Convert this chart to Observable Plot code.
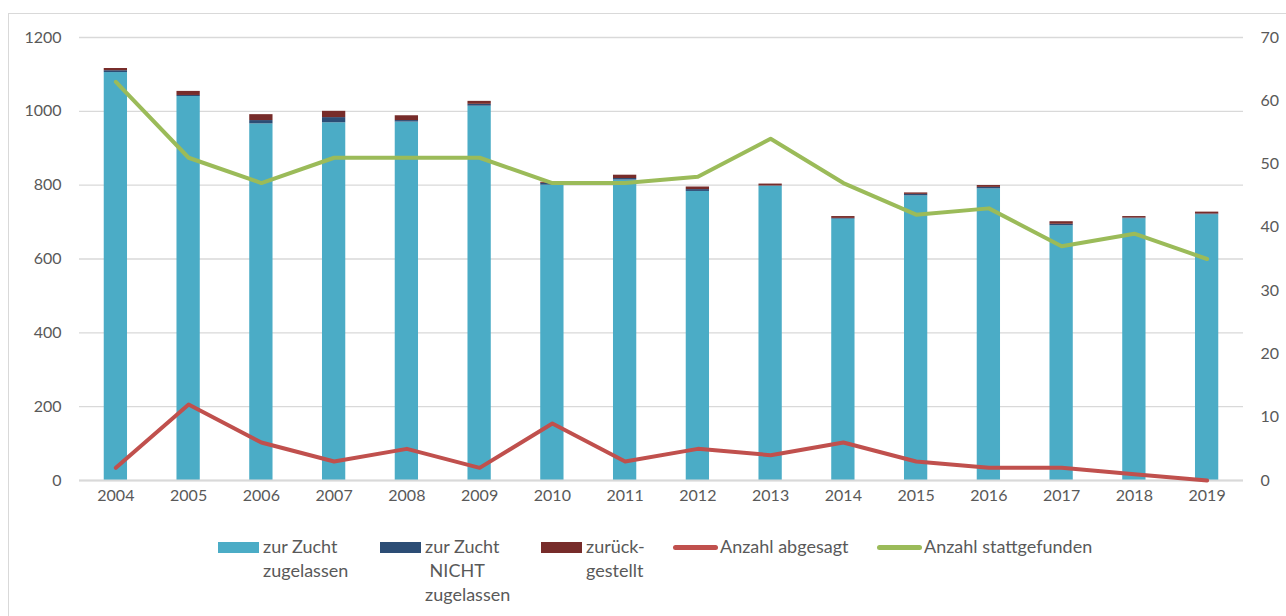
<!DOCTYPE html>
<html><head><meta charset="utf-8">
<script src="https://cdn.jsdelivr.net/npm/d3@7"></script>
<script src="https://cdn.jsdelivr.net/npm/@observablehq/plot@0.6"></script>
<style>
body{margin:0;background:#fff;font-family:Lato,sans-serif;width:1286px;height:616px;overflow:hidden;position:relative;}
#frame{position:absolute;left:8px;top:13px;width:1300px;height:700px;border:1px solid #d9d9d9;box-sizing:border-box;}
#chart{position:absolute;left:0;top:0;}
.leg{position:absolute;top:534px;font-size:18px;line-height:24px;color:#595959;display:flex;align-items:flex-start;white-space:nowrap;}
.sw{width:41px;height:11px;margin-top:8px;margin-right:4px;flex:none;}
.ln{height:5px;border-radius:2.5px;margin-top:11px;margin-right:2px;flex:none;}
</style></head><body>
<div id="frame"></div>
<div id="chart"></div>
<div id="legend"></div>
<script>
const years = ["2004","2005","2006","2007","2008","2009","2010","2011","2012","2013","2014","2015","2016","2017","2018","2019"];
const zugelassen      = [1105,1040,966,969,971,1014,800,814,783,797,708,771,790,690,709,720];
const nichtZugelassen = [5,3,9,14,4,5,5,4,5,1,2,4,4,4,2,2];
const zurueckgestellt = [6,11,16,17,13,8,3,9,7,5,5,4,5,7,4,5];
const abgesagt        = [2,12,6,3,5,2,9,3,5,4,6,3,2,2,1,0];
const stattgefunden   = [63,51,47,51,51,51,47,47,48,54,47,42,43,37,39,35];
const seriesNames  = ["zur Zucht zugelassen","zur Zucht NICHT zugelassen","zurückgestellt"];
const seriesColors = ["#4bacc6","#2c4d75","#772c2a"];
const lineNames  = ["Anzahl abgesagt","Anzahl stattgefunden"];
const lineColors = ["#c0504d","#9bbb59"];
const leftTicks  = [0,200,400,600,800,1000,1200];
const rightTicks = [0,10,20,30,40,50,60,70];
const leftMax = 1200, rightMax = 70;
const k = leftMax / rightMax;

const seriesValues = [zugelassen, nichtZugelassen, zurueckgestellt];
const barData = [];
seriesNames.forEach((s, i) => years.forEach((y, j) => barData.push({year: y, series: s, value: seriesValues[i][j]})));
const lineA = years.map((y, j) => ({year: y, value: abgesagt[j]}));
const lineS = years.map((y, j) => ({year: y, value: stattgefunden[j]}));

const chart = Plot.plot({
  width: 1286, height: 530,
  marginLeft: 79, marginRight: 43, marginTop: 37, marginBottom: 50,
  style: {fontFamily: "Lato, sans-serif", fontSize: "16px", color: "#595959", background: "transparent"},
  x: {domain: years, paddingInner: 0.68, paddingOuter: 0.34, round: false, label: null},
  y: {domain: [0, leftMax], label: null},
  color: {domain: seriesNames, range: seriesColors},
  marks: [
    Plot.gridY(leftTicks, {stroke: "#d9d9d9", strokeOpacity: 1, strokeWidth: 1.4}),
    Plot.barY(barData, {x: "year", y: "value", fill: "series"}),
    Plot.ruleY([0], {stroke: "#d9d9d9", strokeWidth: 2}),
    Plot.line(lineA, {x: "year", y: d => d.value * k, stroke: lineColors[0], strokeWidth: 4, strokeLinejoin: "round", strokeLinecap: "round"}),
    Plot.line(lineS, {x: "year", y: d => d.value * k, stroke: lineColors[1], strokeWidth: 4, strokeLinejoin: "round", strokeLinecap: "round"}),
    Plot.axisX({tickSize: 0, tickPadding: 9, label: null}),
    Plot.axisY({ticks: leftTicks, tickFormat: v => String(v), tickSize: 0, tickPadding: 18, label: null}),
    Plot.axisY({anchor: "right", ticks: rightTicks.map(v => v * k), tickFormat: v => String(Math.round(v / k)), tickSize: 0, tickPadding: 17, label: null})
  ]
});
document.getElementById("chart").appendChild(chart);

// legend
const legendLabels = [["zur Zucht","zugelassen"],["zur Zucht","&nbsp;NICHT","zugelassen"],["zurück-","gestellt"]];
const legendLeft = [218, 380, 541];
const lineLegendLeft = [673, 877];
const lineLegendWidth = [45, 45];
const lg = document.getElementById("legend");
legendLabels.forEach((lines, i) => {
  const d = document.createElement("div");
  d.className = "leg"; d.style.left = legendLeft[i] + "px";
  const sw = document.createElement("div"); sw.className = "sw"; sw.style.background = seriesColors[i];
  const t = document.createElement("div");
  t.innerHTML = lines.join("<br>");
  d.appendChild(sw); d.appendChild(t); lg.appendChild(d);
});
lineNames.forEach((n, i) => {
  const d = document.createElement("div");
  d.className = "leg"; d.style.left = lineLegendLeft[i] + "px";
  const sw = document.createElement("div"); sw.className = "ln"; sw.style.background = lineColors[i]; sw.style.width = lineLegendWidth[i] + "px";
  const t = document.createElement("div"); t.textContent = n;
  d.appendChild(sw); d.appendChild(t); lg.appendChild(d);
});
</script>
</body></html>
